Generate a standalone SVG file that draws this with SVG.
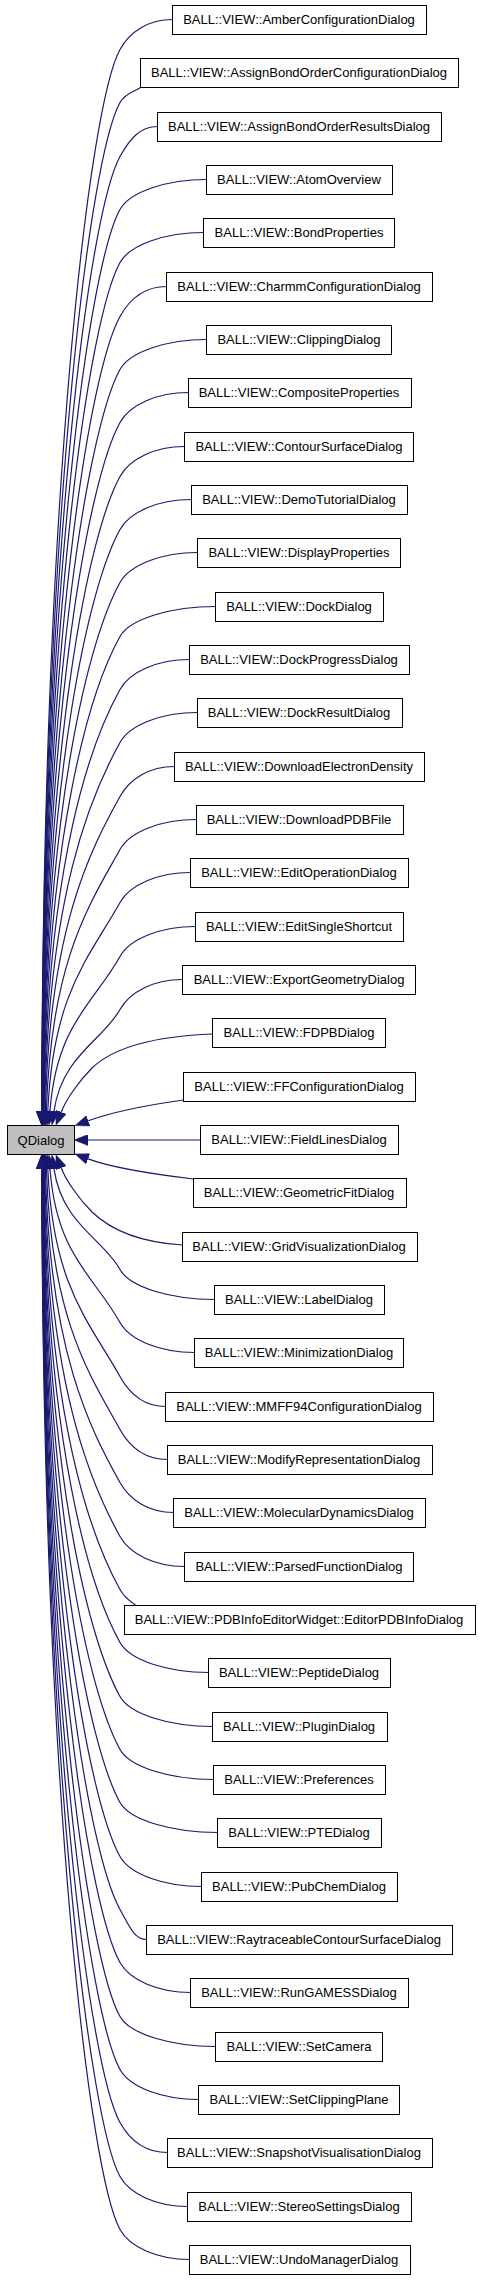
<svg xmlns="http://www.w3.org/2000/svg" width="480" height="2280" viewBox="0 0 480 2280">
<style>
.n rect{fill:#fff;stroke:#000;stroke-width:1}
.n text{font-family:"Liberation Sans",Arial,Helvetica,sans-serif;font-size:13px;fill:#000;text-anchor:middle}
#qdialog rect{fill:#bfbfbf}
#connectors path{fill:none;stroke:#191970;stroke-width:1.2;marker-end:url(#ah)}
</style>
<defs>
<marker id="ah" markerUnits="userSpaceOnUse" markerWidth="14" markerHeight="11" viewBox="0 0 14 11" refX="0" refY="5.5" orient="auto" preserveAspectRatio="none"><path d="M0,0 L14,5.5 L0,11 z" fill="#191970" stroke="#191970" stroke-width="0.5"/></marker>
</defs>
<rect width="480" height="2280" fill="#fff"/>
<g id="connectors">
<path d="M172.5,19.5 C148.6,19.5 130,31.5 120,49.5 C90,103.5 43.1,479.7 41.7,1111"/>
<path d="M140.5,87.5 C136,91 125.6,92.5 120,102.5 C90,156.5 43.3,511.5 41.8,1111"/>
<path d="M157.5,126.5 C140.4,126.5 130,138.5 120,156.5 C90,210.5 43.5,543.9 41.9,1111"/>
<path d="M206.5,179.5 C167.3,179.5 130,191.5 120,209.5 C90,263.5 43.7,575.7 42,1111"/>
<path d="M203.5,232.5 C165.9,232.5 130,244.5 120,262.5 C90,316.5 43.9,607.5 42.1,1111"/>
<path d="M166.5,286.5 C145.5,286.5 130,298.5 120,316.5 C90,370.5 44.1,639.9 42.3,1111"/>
<path d="M206.5,339.5 C167.5,339.5 130,351.5 120,369.5 C90,423.5 44.4,671.7 42.4,1111"/>
<path d="M188.5,392.5 C157.2,392.5 130,404.5 120,422.5 C90,476.5 44.7,703.5 42.6,1111"/>
<path d="M184.5,446.5 C155.4,446.5 130,458.5 120,476.5 C90,530.5 45.1,735.9 42.9,1111"/>
<path d="M191.5,499.5 C158.9,499.5 130,511.5 120,529.5 C90,583.5 45.5,767.7 43.1,1111"/>
<path d="M197.5,552.5 C162.5,552.5 130,564.5 120,582.5 C90,636.5 46,799.5 43.4,1111"/>
<path d="M215.5,606.5 C172.3,606.5 130,618.5 120,636.5 C90,690.5 46.6,831.9 43.7,1111"/>
<path d="M189.5,659.5 C158,659.5 130,671.5 120,689.5 C90,743.5 47.3,863.7 44.2,1111"/>
<path d="M197.5,712.5 C162.1,712.5 130,724.5 120,742.5 C90,796.5 48.3,895.5 44.7,1111"/>
<path d="M174.5,766.5 C149.6,766.5 130,778.5 120,796.5 C90,850.5 49.4,927.9 45.4,1111"/>
<path d="M196.5,819.5 C161.5,819.5 130,831.5 120,849.5 C90,903.5 51,959.7 46.4,1111"/>
<path d="M190.5,872.5 C158.6,872.5 130,884.5 120,902.5 C90,956.5 53.2,991.5 47.8,1111"/>
<path d="M195.5,926.5 C161.1,926.5 130,938.5 120,956.5 C94,1003.3 56.5,1023.9 50,1111"/>
<path d="M182.5,979.5 C154.4,979.5 130,991.5 120,1009.5 C102.8,1040.6 62,1055.7 54,1111.1"/>
<path d="M212.5,1034 C160,1036 115,1046 92,1068 C78,1082 66,1100 61.2,1112"/>
<path d="M183.5,1100 C155,1104 115,1111 88.2,1120.8"/>
<path d="M200.5,1140 L88,1140"/>
<path d="M193.5,1179 C160,1175 115,1169 88.1,1158.9"/>
<path d="M182.5,1245 C150,1243 115,1234 92,1212 C78,1198 66,1180 61.2,1168"/>
<path d="M214.5,1299.5 C171.6,1299.5 130,1287.5 120,1269.5 C102.9,1238.7 62,1223.7 54,1168.9"/>
<path d="M194.5,1352.5 C160.9,1352.5 130,1340.5 120,1322.5 C94.1,1275.9 56.5,1255.5 50,1169"/>
<path d="M165.5,1406.5 C144.9,1406.5 130,1394.5 120,1376.5 C90,1322.5 53.2,1287.9 47.8,1169"/>
<path d="M167.5,1459.5 C145.7,1459.5 130,1447.5 120,1429.5 C90,1375.5 51,1319.7 46.4,1169"/>
<path d="M173.5,1512.5 C149.2,1512.5 130,1500.5 120,1482.5 C90,1428.5 49.4,1351.5 45.4,1169"/>
<path d="M184.5,1566.5 C155.4,1566.5 130,1554.5 120,1536.5 C90,1482.5 48.3,1383.9 44.7,1169"/>
<path d="M136,1605.5 C131,1601 125.6,1599.5 120,1589.5 C90,1535.5 47.3,1415.7 44.2,1169"/>
<path d="M208.5,1672.5 C168.3,1672.5 130,1660.5 120,1642.5 C90,1588.5 46.6,1447.5 43.7,1169"/>
<path d="M212.5,1726.5 C170.5,1726.5 130,1714.5 120,1696.5 C90,1642.5 46,1479.9 43.4,1169"/>
<path d="M213.5,1779.5 C171.3,1779.5 130,1767.5 120,1749.5 C90,1695.5 45.5,1511.7 43.1,1169"/>
<path d="M217.5,1832.5 C173.5,1832.5 130,1820.5 120,1802.5 C90,1748.5 45.1,1543.5 42.9,1169"/>
<path d="M201.5,1886.5 C164.5,1886.5 130,1874.5 120,1856.5 C90,1802.5 44.7,1575.9 42.6,1169"/>
<path d="M146.5,1939.5 C134.3,1939.5 130,1927.5 120,1909.5 C90,1855.5 44.4,1607.7 42.4,1169"/>
<path d="M190.5,1992.5 C158.6,1992.5 130,1980.5 120,1962.5 C90,1908.5 44.1,1639.5 42.3,1169"/>
<path d="M215.5,2046.5 C172.5,2046.5 130,2034.5 120,2016.5 C90,1962.5 43.9,1671.9 42.1,1169"/>
<path d="M198.5,2099.5 C163.1,2099.5 130,2087.5 120,2069.5 C90,2015.5 43.7,1703.7 42,1169"/>
<path d="M167.5,2152.5 C145.6,2152.5 130,2140.5 120,2122.5 C90,2068.5 43.5,1735.5 41.9,1169"/>
<path d="M187.5,2206.5 C157,2206.5 130,2194.5 120,2176.5 C90,2122.5 43.3,1767.9 41.8,1169"/>
<path d="M189.5,2259.5 C157.8,2259.5 130,2247.5 120,2229.5 C90,2175.5 43.1,1799.7 41.7,1169"/>
</g>
<g id="qdialog" class="n"><rect x="7.5" y="1125.5" width="67" height="29"/><text x="41" y="1144.5">QDialog</text></g>
<g id="n0" class="n"><rect x="172.5" y="5.5" width="254" height="29"/><text x="299" y="24">BALL::VIEW::AmberConfigurationDialog</text></g>
<g id="n1" class="n"><rect x="140.5" y="58.5" width="318" height="29"/><text x="299" y="77">BALL::VIEW::AssignBondOrderConfigurationDialog</text></g>
<g id="n2" class="n"><rect x="157.5" y="112.5" width="284" height="29"/><text x="299" y="131">BALL::VIEW::AssignBondOrderResultsDialog</text></g>
<g id="n3" class="n"><rect x="206.5" y="165.5" width="186" height="29"/><text x="299" y="184">BALL::VIEW::AtomOverview</text></g>
<g id="n4" class="n"><rect x="203.5" y="218.5" width="191" height="29"/><text x="299" y="237">BALL::VIEW::BondProperties</text></g>
<g id="n5" class="n"><rect x="166.5" y="272.5" width="266" height="29"/><text x="299" y="291">BALL::VIEW::CharmmConfigurationDialog</text></g>
<g id="n6" class="n"><rect x="206.5" y="325.5" width="185" height="29"/><text x="299" y="344">BALL::VIEW::ClippingDialog</text></g>
<g id="n7" class="n"><rect x="188.5" y="378.5" width="223" height="29"/><text x="299" y="397">BALL::VIEW::CompositeProperties</text></g>
<g id="n8" class="n"><rect x="184.5" y="432.5" width="229" height="29"/><text x="299" y="451">BALL::VIEW::ContourSurfaceDialog</text></g>
<g id="n9" class="n"><rect x="191.5" y="485.5" width="216" height="29"/><text x="299" y="504">BALL::VIEW::DemoTutorialDialog</text></g>
<g id="n10" class="n"><rect x="197.5" y="538.5" width="203" height="29"/><text x="299" y="557">BALL::VIEW::DisplayProperties</text></g>
<g id="n11" class="n"><rect x="215.5" y="592.5" width="168" height="29"/><text x="299" y="611">BALL::VIEW::DockDialog</text></g>
<g id="n12" class="n"><rect x="189.5" y="645.5" width="220" height="29"/><text x="299" y="664">BALL::VIEW::DockProgressDialog</text></g>
<g id="n13" class="n"><rect x="197.5" y="698.5" width="205" height="29"/><text x="299" y="717">BALL::VIEW::DockResultDialog</text></g>
<g id="n14" class="n"><rect x="174.5" y="752.5" width="250" height="29"/><text x="299" y="771">BALL::VIEW::DownloadElectronDensity</text></g>
<g id="n15" class="n"><rect x="196.5" y="805.5" width="207" height="29"/><text x="299" y="824">BALL::VIEW::DownloadPDBFile</text></g>
<g id="n16" class="n"><rect x="190.5" y="858.5" width="218" height="29"/><text x="299" y="877">BALL::VIEW::EditOperationDialog</text></g>
<g id="n17" class="n"><rect x="195.5" y="912.5" width="208" height="29"/><text x="299" y="931">BALL::VIEW::EditSingleShortcut</text></g>
<g id="n18" class="n"><rect x="182.5" y="965.5" width="233" height="29"/><text x="299" y="984">BALL::VIEW::ExportGeometryDialog</text></g>
<g id="n19" class="n"><rect x="212.5" y="1018.5" width="173" height="29"/><text x="299" y="1037">BALL::VIEW::FDPBDialog</text></g>
<g id="n20" class="n"><rect x="183.5" y="1072.5" width="232" height="29"/><text x="299" y="1091">BALL::VIEW::FFConfigurationDialog</text></g>
<g id="n21" class="n"><rect x="200.5" y="1125.5" width="198" height="29"/><text x="299" y="1144">BALL::VIEW::FieldLinesDialog</text></g>
<g id="n22" class="n"><rect x="193.5" y="1178.5" width="213" height="29"/><text x="299" y="1197">BALL::VIEW::GeometricFitDialog</text></g>
<g id="n23" class="n"><rect x="182.5" y="1232.5" width="235" height="29"/><text x="299" y="1251">BALL::VIEW::GridVisualizationDialog</text></g>
<g id="n24" class="n"><rect x="214.5" y="1285.5" width="170" height="29"/><text x="299" y="1304">BALL::VIEW::LabelDialog</text></g>
<g id="n25" class="n"><rect x="194.5" y="1338.5" width="209" height="29"/><text x="299" y="1357">BALL::VIEW::MinimizationDialog</text></g>
<g id="n26" class="n"><rect x="165.5" y="1392.5" width="268" height="29"/><text x="299" y="1411">BALL::VIEW::MMFF94ConfigurationDialog</text></g>
<g id="n27" class="n"><rect x="167.5" y="1445.5" width="265" height="29"/><text x="299" y="1464">BALL::VIEW::ModifyRepresentationDialog</text></g>
<g id="n28" class="n"><rect x="173.5" y="1498.5" width="252" height="29"/><text x="299" y="1517">BALL::VIEW::MolecularDynamicsDialog</text></g>
<g id="n29" class="n"><rect x="184.5" y="1552.5" width="229" height="29"/><text x="299" y="1571">BALL::VIEW::ParsedFunctionDialog</text></g>
<g id="n30" class="n"><rect x="124.5" y="1605.5" width="351" height="29"/><text x="299" y="1624">BALL::VIEW::PDBInfoEditorWidget::EditorPDBInfoDialog</text></g>
<g id="n31" class="n"><rect x="208.5" y="1658.5" width="182" height="29"/><text x="299" y="1677">BALL::VIEW::PeptideDialog</text></g>
<g id="n32" class="n"><rect x="212.5" y="1712.5" width="175" height="29"/><text x="299" y="1731">BALL::VIEW::PluginDialog</text></g>
<g id="n33" class="n"><rect x="213.5" y="1765.5" width="172" height="29"/><text x="299" y="1784">BALL::VIEW::Preferences</text></g>
<g id="n34" class="n"><rect x="217.5" y="1818.5" width="164" height="29"/><text x="299" y="1837">BALL::VIEW::PTEDialog</text></g>
<g id="n35" class="n"><rect x="201.5" y="1872.5" width="196" height="29"/><text x="299" y="1891">BALL::VIEW::PubChemDialog</text></g>
<g id="n36" class="n"><rect x="146.5" y="1925.5" width="306" height="29"/><text x="299" y="1944">BALL::VIEW::RaytraceableContourSurfaceDialog</text></g>
<g id="n37" class="n"><rect x="190.5" y="1978.5" width="218" height="29"/><text x="299" y="1997">BALL::VIEW::RunGAMESSDialog</text></g>
<g id="n38" class="n"><rect x="215.5" y="2032.5" width="167" height="29"/><text x="299" y="2051">BALL::VIEW::SetCamera</text></g>
<g id="n39" class="n"><rect x="198.5" y="2085.5" width="201" height="29"/><text x="299" y="2104">BALL::VIEW::SetClippingPlane</text></g>
<g id="n40" class="n"><rect x="167.5" y="2138.5" width="265" height="29"/><text x="299" y="2157">BALL::VIEW::SnapshotVisualisationDialog</text></g>
<g id="n41" class="n"><rect x="187.5" y="2192.5" width="224" height="29"/><text x="299" y="2211">BALL::VIEW::StereoSettingsDialog</text></g>
<g id="n42" class="n"><rect x="189.5" y="2245.5" width="221" height="29"/><text x="299" y="2264">BALL::VIEW::UndoManagerDialog</text></g>
</svg>
